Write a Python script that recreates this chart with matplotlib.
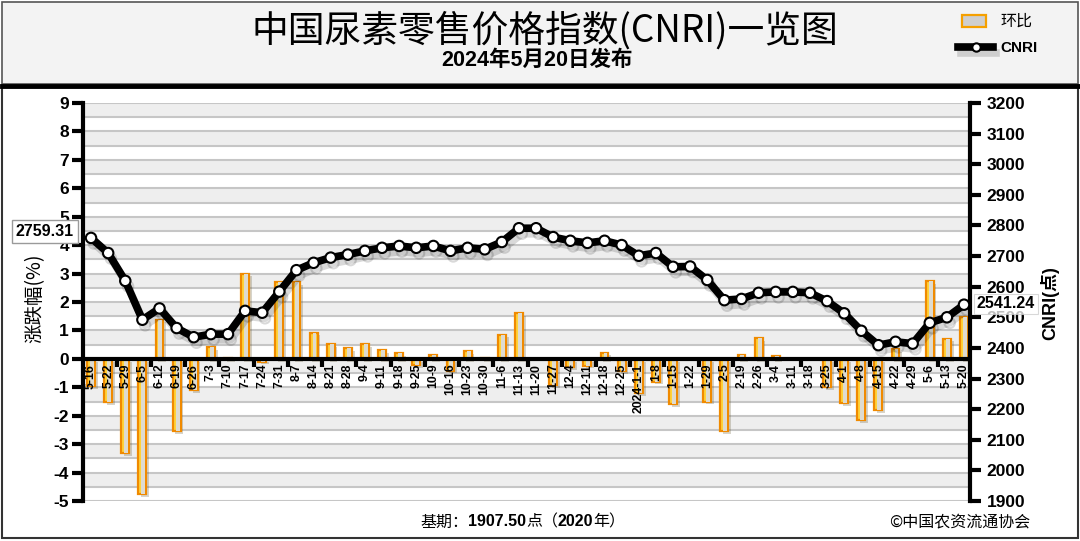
import matplotlib
matplotlib.use('Agg')
import matplotlib.pyplot as plt
import matplotlib.patheffects as pe
from matplotlib.patches import Rectangle
from matplotlib.lines import Line2D
from matplotlib.transforms import offset_copy
import numpy as np

plt.rcParams['font.family'] = ['Liberation Sans', 'Noto Sans CJK SC', 'DejaVu Sans']

dates = ['5-16', '5-22', '5-29', '6-5', '6-12', '6-19', '6-26', '7-3', '7-10', '7-17',
         '7-24', '7-31', '8-7', '8-14', '8-21', '8-28', '9-4', '9-11', '9-18', '9-25',
         '10-9', '10-16', '10-23', '10-30', '11-6', '11-13', '11-20', '11-27', '12-4', '12-11',
         '12-18', '12-25', '2024-1-1', '1-8', '1-15', '1-22', '1-29', '2-5', '2-19', '2-26',
         '3-4', '3-11', '3-18', '3-25', '4-1', '4-8', '4-15', '4-22', '4-29', '5-6',
         '5-13', '5-20']

cnri = [2759.31, 2710, 2619, 2492, 2529, 2465, 2435, 2445, 2445, 2521,
        2515, 2584, 2654, 2678, 2695, 2705, 2717, 2727, 2733, 2727,
        2733, 2717, 2727, 2722, 2746, 2791, 2791, 2762, 2750, 2743,
        2750, 2736, 2701, 2710, 2665, 2666, 2622, 2556, 2560, 2580,
        2583, 2583, 2580, 2553, 2513, 2456, 2409, 2420, 2414, 2482,
        2500, 2541.24]

change = [-0.95, -1.53, -3.32, -4.75, 1.38, -2.53, -1.1, 0.4, 0.02, 3.0,
          -0.1, 2.69, 2.69, 0.92, 0.53, 0.37, 0.53, 0.32, 0.2, -0.21,
          0.13, -0.41, 0.27, 0.02, 0.85, 1.6, 0.0, -0.92, -0.3, -0.24,
          0.22, -0.42, -1.2, -0.8, -1.6, 0.0, -1.5, -2.53, 0.13, 0.74,
          0.1, 0.0, 0.0, -1.0, -1.55, -2.15, -1.8, 0.33, 0.0, 2.73,
          0.71, 1.47]

left_ticks = list(range(-5, 10))
right_ticks = list(range(1900, 3201, 100))

title = '中国尿素零售价格指数(CNRI)一览图'
subtitle = '2024年5月20日发布'
base_parts = [('基期：', 'normal'), ('1907.50', 'bold'), ('点（', 'normal'),
              ('2020', 'bold'), ('年）', 'normal')]
copyright_note = '©中国农资流通协会'

W, H = 1080, 541
fig = plt.figure(figsize=(W / 100, H / 100), dpi=100)
fig.patch.set_facecolor('white')


def fx(px):
    return px / W


def fy(py):
    return 1 - py / H


# header and panel frames
fig.add_artist(Rectangle((fx(2), fy(84)), fx(1076), 82 / H, transform=fig.transFigure,
                         facecolor='#f3f3f3', edgecolor='#555555', lw=1.2, zorder=0))
fig.add_artist(Rectangle((fx(2), fy(538)), fx(1076), 452 / H, transform=fig.transFigure,
                         facecolor='white', edgecolor='#333333', lw=1.5, zorder=0))
fig.add_artist(Line2D([fx(2), fx(1078)], [fy(86), fy(86)], transform=fig.transFigure,
                      color='black', lw=3.5, zorder=1))

ax = fig.add_axes([fx(83), fy(501), fx(887), 398 / H])
ax.set_facecolor('white')
n = len(dates)
x = np.arange(n)
ax.set_xlim(-0.47, n - 1 + 0.35)
ax.set_ylim(left_ticks[0], left_ticks[-1])

# alternating bands + gridlines
for k in left_ticks[:-1]:
    ax.axhspan(k + 0.5, k + 1, color='#eeeeee', zorder=0, lw=0)
for g in np.arange(left_ticks[0], left_ticks[-1] + 0.01, 0.5):
    ax.axhline(g, color='#c6c6c6', lw=1.5, zorder=1)

bw = 0.46
ax.bar(x, change, width=bw, facecolor='#ffd23a', edgecolor='#f08a00', lw=1.6, zorder=3,
       path_effects=[pe.SimplePatchShadow(offset=(2, -2), alpha=0.22), pe.Normal()])
ax.bar(x + bw * 0.12, change, width=bw * 0.5, facecolor='#dedbd0', edgecolor='none', zorder=3.5)

ax.axhline(0, color='black', lw=3, zorder=4)
ax.vlines(np.arange(1.5, n - 1, 2), -0.3, 0, color='black', lw=3, zorder=4)

for i, d in enumerate(dates):
    ax.text(i, -0.17, d, rotation=90, ha='center', va='top', fontsize=8.8,
            fontweight='bold', zorder=6)

ax.set_xticks([])
for s in ['top', 'bottom', 'right']:
    ax.spines[s].set_visible(False)
ax.spines['left'].set_linewidth(3)
ax.set_yticks(left_ticks)
ax.set_yticklabels([str(t) for t in left_ticks], fontsize=12.5, fontweight='bold')
ax.tick_params(axis='y', length=8, width=3, pad=2)

ax2 = ax.twinx()
ax2.set_ylim(right_ticks[0], right_ticks[-1])
for s in ['top', 'bottom', 'left']:
    ax2.spines[s].set_visible(False)
ax2.spines['right'].set_linewidth(3)
ax2.set_yticks(right_ticks)
ax2.set_yticklabels([str(t) for t in right_ticks], fontsize=12.5, fontweight='bold')
ax2.tick_params(axis='y', length=8, width=3, pad=4)

ax2.plot(x, cnri, color='black', lw=5.5, marker='o', ms=7.5, mfc='white', mec='black',
         mew=1.5, zorder=5,
         path_effects=[pe.SimpleLineShadow(offset=(2, -4), shadow_color='black', alpha=0.15),
                       pe.Normal()])

ax2.annotate(f'{cnri[0]:.2f}', xy=(x[0], cnri[0]), xytext=(-46, 6), textcoords='offset pixels',
             ha='center', va='center', fontsize=11.5, fontweight='bold', annotation_clip=False,
             bbox=dict(boxstyle='square,pad=0.25', fc='white', ec='#9a9a9a', lw=1), zorder=7)
ax2.annotate(f'{cnri[-1]:.2f}', xy=(x[-1], cnri[-1]), xytext=(42, 1), textcoords='offset pixels',
             ha='center', va='center', fontsize=11.5, fontweight='bold', annotation_clip=False,
             bbox=dict(boxstyle='square,pad=0.15', fc='white', ec='#cccccc', lw=0.8, alpha=0.75),
             zorder=7)

# axis titles
fig.text(fx(35), fy(298), '涨跌幅(%)', rotation=90, ha='center', va='center', fontsize=14,
         family=['Noto Sans CJK SC', 'DejaVu Sans'])
fig.text(fx(1050), fy(303), 'CNRI(点)', rotation=90, ha='center', va='center', fontsize=13,
         fontweight='bold')

# header text
fig.text(fx(545), fy(31), title, ha='center', va='center', fontsize=26.5,
         family=['Noto Sans CJK SC', 'DejaVu Sans'])
fig.text(fx(537), fy(60), subtitle, ha='center', va='center', fontsize=15.5, fontweight='bold')

# legend
fig.add_artist(Rectangle((fx(962), fy(27)), fx(24), 12 / H, transform=fig.transFigure,
                         facecolor='#cfcfcf', edgecolor='#f5a000', lw=1.6, zorder=3))
fig.text(fx(1000), fy(21), '环比', ha='left', va='center', fontsize=11.5,
         family=['Noto Sans CJK SC', 'DejaVu Sans'])
fig.add_artist(Line2D([fx(958), fx(993)], [fy(47), fy(47)], transform=fig.transFigure,
                      color='black', lw=5.5, zorder=3,
                      path_effects=[pe.SimpleLineShadow(offset=(2, -4), alpha=0.15), pe.Normal()]))
fig.add_artist(Line2D([fx(975.5)], [fy(47)], transform=fig.transFigure, marker='o', ms=6,
                      mfc='white', mec='black', mew=1.5, zorder=4))
fig.text(fx(1000), fy(48), 'CNRI', ha='left', va='center', fontsize=11, fontweight='bold')

# footer (mixed weights, placed sequentially)
renderer = fig.canvas.get_renderer()
xpos = fx(420)
for txt, wt in base_parts:
    t = fig.text(xpos, fy(522), txt, ha='left', va='center', fontsize=11.5, fontweight=wt)
    bb = t.get_window_extent(renderer=renderer)
    xpos = xpos + bb.width / W
fig.text(fx(960), fy(522), copyright_note, ha='center', va='center', fontsize=11.5,
         family=['Noto Sans CJK SC', 'DejaVu Sans'])

fig.savefig('out.png', dpi=100)
